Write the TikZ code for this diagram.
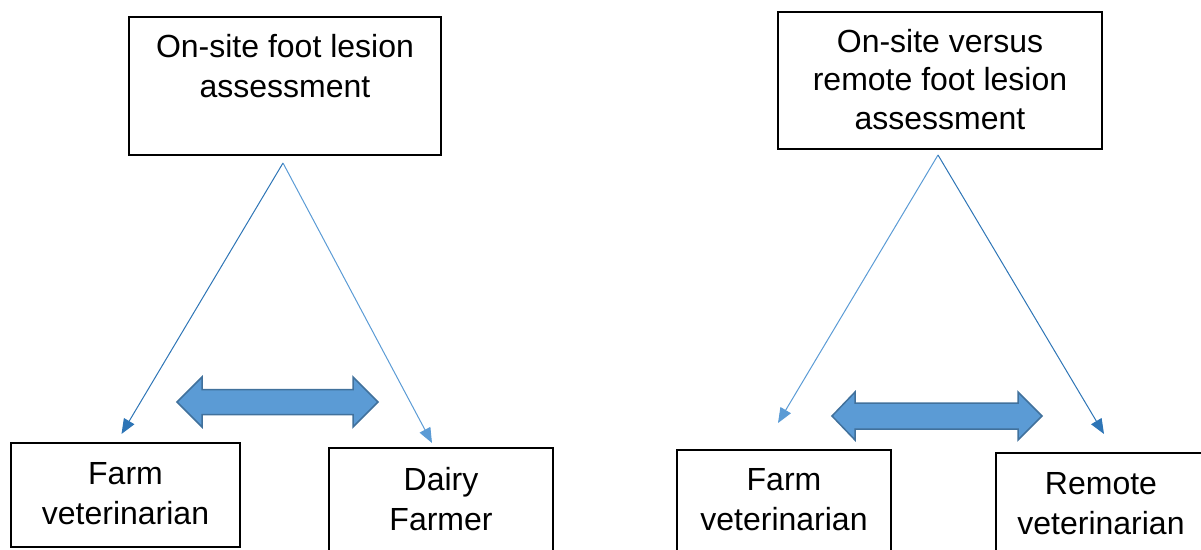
\documentclass[tikz,border=0pt]{standalone}
\usepackage{fontspec}
\setmainfont{Liberation Sans}
\usetikzlibrary{arrows.meta,calc}
\definecolor{linkdark}{RGB}{46,117,182}
\definecolor{linklight}{RGB}{91,155,213}
\definecolor{bandfill}{RGB}{91,155,213}
\definecolor{bandedge}{RGB}{65,113,156}
\begin{document}
\begin{tikzpicture}[x=1pt,y=-1pt,
  box/.style={draw=black,line width=1.8pt,inner sep=0pt,outer sep=0pt},
  txt/.style={anchor=north,inner sep=0pt,align=center,
    font=\fontsize{32}{40}\selectfont},
  link/.style={line width=1pt,-{Triangle[length=15pt,width=12pt]}},
  band/.style={fill=bandfill,draw=bandedge,line width=1.5pt,line join=miter}]
\clip (0,0) rectangle (1201,549);
\useasboundingbox (0,0) rectangle (1201,549);

% upper boxes
\node[box,minimum width=312pt,minimum height=138pt] (topL) at (285,86) {};
\node[box,minimum width=324pt,minimum height=137pt] (topR) at (940,80.5) {};
\node[txt] (topLt) at ($(topL.north)+(0,17)$) {On-site foot lesion\\assessment};
\node[txt,font=\fontsize{32}{38.5}\selectfont] (topRt) at ($(topR.north)+(0,17)$)
  {On-site versus\\remote foot lesion\\assessment};

% lower boxes (running off the page edge)
\node[box,minimum width=229pt,minimum height=104pt] (farmL) at (125.5,495) {};
\node[box,minimum width=224pt,minimum height=110pt] (dairy) at (441,503) {};
\node[box,minimum width=214pt,minimum height=110pt] (farmR) at (784,505) {};
\node[box,minimum width=210pt,minimum height=110pt] (remote) at (1101,508) {};
\node[txt] (farmLt) at ($(farmL.north)+(0,19)$) {Farm\\veterinarian};
\node[txt] (dairyt) at ($(dairy.north)+(0,19)$) {Dairy\\Farmer};
\node[txt] (farmRt) at ($(farmR.north)+(0,18)$) {Farm\\veterinarian};
\node[txt] (remotet) at ($(remote.north)+(0,19)$) {Remote\\veterinarian};

% branching connectors
\coordinate (apexL) at ($(topL.south)+(-2,8)$);
\coordinate (apexR) at ($(topR.south)+(-2,6)$);
\coordinate (endFL) at ($(farmL.north)+(-4,-9)$);
\coordinate (endD) at ($(dairy.north)+(-9,-5)$);
\coordinate (endFR) at ($(farmR.north)+(-6,-27)$);
\coordinate (endR) at ($(remote.north)+(3,-19)$);
\draw[link,linkdark] (apexL) -- (endFL);
\draw[link,linklight] (apexL) -- (endD);
\draw[link,linklight] (apexR) -- (endFR);
\draw[link,linkdark] (apexR) -- (endR);

% comparison arrows
\draw[band] (177,402) -- (202,377) -- (202,389.5) -- (353,389.5) -- (353,377)
  -- (378,402) -- (353,427) -- (353,414.5) -- (202,414.5) -- (202,427) -- cycle;
\draw[band] (832,416) -- (855,392) -- (855,403) -- (1018,403) -- (1018,392)
  -- (1042,416) -- (1018,440) -- (1018,429) -- (855,429) -- (855,440) -- cycle;
\end{tikzpicture}
\end{document}
